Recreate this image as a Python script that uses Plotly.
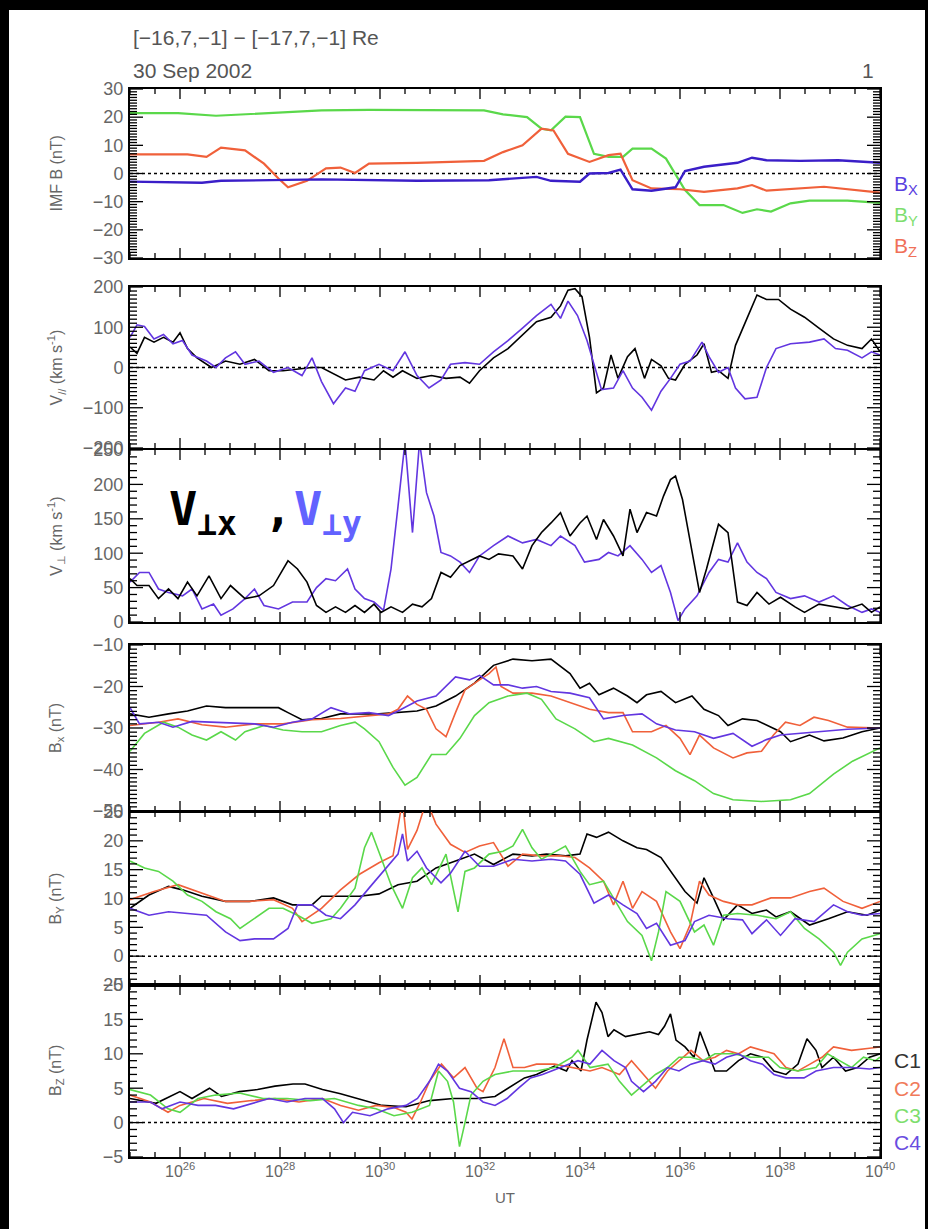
import numpy as np
import plotly.graph_objects as go

# ---------------- data (time in minutes after 10:00 UT) ----------------
# Panel 1: IMF B (nT)
IMF_BX_T = [25.0, 26.44, 26.82, 28.83, 30.74, 32.18, 33.13, 33.42, 34.0, 34.19, 34.57, 34.81, 35.05, 35.43, 35.91, 36.1, 36.48, 37.15, 37.44, 37.73, 38.4, 39.16, 40.0]
IMF_BX = [-2.9, -3.3, -2.6, -2.1, -2.6, -2.4, -1.2, -2.6, -2.9, 0.0, 0.2, 1.4, -5.6, -6.1, -4.9, 0.9, 2.4, 3.8, 5.6, 4.7, 4.5, 4.7, 3.8]
IMF_BY_T = [25.0, 25.96, 26.72, 27.87, 28.83, 29.78, 30.74, 32.08, 32.46, 32.94, 33.23, 33.42, 33.71, 34.0, 34.28, 34.57, 34.86, 35.05, 35.43, 35.72, 36.1, 36.39, 36.87, 37.25, 37.54, 37.82, 38.21, 38.59, 39.35, 40.0]
IMF_BY = [21.4, 21.4, 20.5, 21.4, 22.4, 22.6, 22.6, 22.4, 21.0, 20.0, 15.9, 15.3, 20.2, 20.0, 7.0, 5.9, 5.9, 8.8, 8.8, 5.3, -5.9, -11.2, -11.2, -14.0, -12.7, -13.5, -10.6, -9.6, -9.6, -10.4]
IMF_BZ_T = [25.0, 26.15, 26.53, 26.82, 27.3, 27.68, 27.97, 28.16, 28.54, 28.92, 29.21, 29.5, 29.78, 30.74, 32.08, 32.46, 32.85, 33.23, 33.47, 33.76, 34.19, 34.57, 34.81, 35.05, 35.43, 36.0, 36.48, 37.15, 37.44, 37.73, 38.88, 40.0]
IMF_BZ = [6.8, 6.8, 5.9, 9.2, 8.2, 3.5, -1.8, -4.9, -2.6, 1.8, 2.1, 0.2, 3.5, 3.8, 4.5, 7.6, 10.0, 15.9, 15.3, 7.0, 4.1, 6.5, 7.0, -2.4, -5.3, -5.6, -6.5, -5.3, -4.1, -6.1, -4.7, -6.8]

# Panel 2: V parallel (km/s)
VPAR_X_T = [25.0, 25.14, 25.29, 25.48, 25.67, 25.86, 26.0, 26.15, 26.34, 26.63, 26.91, 27.2, 27.49, 27.78, 28.06, 28.35, 28.64, 28.83, 29.02, 29.31, 29.59, 29.88, 30.07, 30.26, 30.45, 30.74, 31.03, 31.32, 31.6, 31.79, 31.99, 32.27, 32.56, 32.85, 33.13, 33.42, 33.61, 33.76, 33.9, 34.04, 34.19, 34.33, 34.47, 34.62, 34.76, 34.95, 35.1, 35.29, 35.43, 35.62, 35.77, 35.91, 36.1, 36.34, 36.48, 36.63, 36.77, 36.96, 37.11, 37.34, 37.54, 37.73, 37.97, 38.21, 38.49, 38.78, 39.07, 39.35, 39.64, 39.83, 40.0]
VPAR_X = [51, 35, 75, 63, 75, 63, 86, 47, 24, 0, 16, 8, 20, -8, -8, -4, 0, 0, -12, -31, -24, -31, -8, -24, -8, -27, -20, -27, -24, -39, -8, 24, 47, 82, 114, 125, 153, 192, 196, 176, 75, -63, -51, 31, -27, 27, 47, -27, 20, 4, -27, -31, 8, 31, 59, -12, -8, -27, 55, 122, 180, 169, 169, 145, 125, 98, 71, 55, 47, 71, 39]
VPAR_Y_T = [25.0, 25.14, 25.29, 25.48, 25.67, 25.86, 26.05, 26.24, 26.53, 26.72, 26.91, 27.11, 27.3, 27.58, 27.87, 28.16, 28.44, 28.64, 28.83, 29.07, 29.31, 29.5, 29.69, 29.98, 30.26, 30.5, 30.74, 30.98, 31.22, 31.41, 31.7, 31.99, 32.27, 32.56, 32.85, 33.13, 33.42, 33.61, 33.76, 33.95, 34.14, 34.28, 34.43, 34.67, 34.86, 35.05, 35.24, 35.43, 35.62, 35.81, 36.0, 36.2, 36.44, 36.58, 36.77, 36.96, 37.11, 37.3, 37.54, 37.73, 37.92, 38.21, 38.59, 38.88, 39.11, 39.35, 39.64, 39.83, 40.0]
VPAR_Y = [75, 106, 102, 71, 82, 59, 67, 31, 16, 0, 24, 39, 8, 16, -12, 0, -20, 24, -35, -90, -51, -59, -8, 8, -8, 39, -20, -51, -31, 8, 12, 8, 39, 67, 98, 129, 157, 122, 165, 129, 67, 8, -55, -51, -8, -51, -74, -106, -59, -27, 8, 16, 63, 27, -12, 0, -51, -78, -74, 0, 47, 59, 63, 71, 47, 43, 24, 39, 31]

# Panel 3: V perpendicular (km/s)
VPERP_X_T = [25.0, 25.14, 25.38, 25.57, 25.77, 25.96, 26.15, 26.34, 26.58, 26.82, 27.01, 27.3, 27.58, 27.87, 28.16, 28.35, 28.54, 28.73, 28.92, 29.11, 29.31, 29.5, 29.69, 29.88, 30.02, 30.22, 30.45, 30.65, 30.84, 31.03, 31.22, 31.41, 31.6, 31.79, 31.99, 32.18, 32.37, 32.66, 32.85, 33.04, 33.23, 33.42, 33.61, 33.8, 34.0, 34.14, 34.33, 34.47, 34.67, 34.86, 35.0, 35.14, 35.33, 35.53, 35.67, 35.81, 35.91, 36.05, 36.24, 36.39, 36.53, 36.77, 36.96, 37.15, 37.34, 37.54, 37.78, 38.01, 38.3, 38.49, 38.78, 39.07, 39.35, 39.64, 39.83, 40.0]
VPERP_X = [63, 53, 53, 34, 48, 34, 58, 38, 67, 34, 53, 34, 38, 53, 89, 77, 58, 24, 14, 22, 14, 24, 14, 26, 14, 22, 14, 26, 22, 34, 72, 65, 82, 89, 96, 91, 99, 96, 77, 111, 130, 144, 159, 125, 144, 154, 120, 149, 125, 96, 164, 130, 159, 154, 183, 207, 212, 178, 101, 43, 77, 142, 130, 29, 24, 43, 26, 36, 22, 14, 26, 22, 19, 26, 14, 22]
VPERP_Y_T = [25.0, 25.19, 25.38, 25.57, 25.77, 26.05, 26.24, 26.44, 26.67, 26.82, 27.06, 27.3, 27.49, 27.68, 27.97, 28.25, 28.54, 28.73, 28.92, 29.11, 29.35, 29.5, 29.69, 29.88, 30.07, 30.22, 30.36, 30.5, 30.65, 30.79, 30.93, 31.08, 31.22, 31.41, 31.6, 31.79, 31.99, 32.27, 32.56, 32.85, 33.13, 33.42, 33.61, 33.9, 34.09, 34.38, 34.57, 34.76, 35.0, 35.24, 35.43, 35.62, 35.81, 35.96, 36.1, 36.34, 36.58, 36.77, 36.96, 37.15, 37.34, 37.54, 37.73, 37.92, 38.21, 38.49, 38.78, 39.07, 39.35, 39.64, 39.83, 40.0]
VPERP_Y = [58, 72, 72, 48, 43, 38, 48, 19, 26, 10, 19, 34, 48, 24, 19, 29, 29, 50, 63, 60, 77, 48, 34, 29, 17, 77, 168, 262, 130, 262, 188, 154, 101, 96, 87, 72, 96, 111, 125, 115, 120, 111, 125, 111, 87, 91, 101, 96, 111, 91, 72, 82, 43, 2, 19, 38, 72, 91, 87, 115, 87, 72, 63, 43, 34, 38, 29, 38, 24, 14, 19, 14]

# Panel 4: Bx (nT) for C1..C4
BX_T1 = [25.0, 25.38, 25.77, 26.15, 26.53, 26.91, 27.39, 27.97, 28.16, 28.44, 28.83, 29.21, 29.98, 30.36, 30.74, 31.12, 31.51, 31.89, 32.27, 32.66, 33.04, 33.42, 33.8, 34.0, 34.19, 34.38, 34.67, 34.95, 35.14, 35.33, 35.62, 35.91, 36.24, 36.48, 36.77, 36.96, 37.25, 37.54, 37.82, 38.01, 38.21, 38.59, 38.88, 39.26, 39.64, 40.0]
BX_C1 = [-26.6, -27.4, -26.6, -25.9, -24.7, -25.1, -25.1, -25.1, -26.3, -28.0, -27.7, -26.6, -26.6, -26.3, -25.9, -24.7, -22.3, -19.2, -14.9, -13.4, -13.8, -13.4, -16.9, -20.4, -19.2, -22.0, -20.4, -22.3, -23.9, -22.0, -21.2, -23.9, -22.3, -25.5, -27.0, -29.4, -27.8, -28.2, -29.8, -30.9, -33.3, -31.7, -33.1, -32.4, -30.9, -30.0]
BX_T2 = [25.0, 25.57, 25.96, 26.44, 26.91, 27.49, 28.06, 28.64, 29.21, 29.78, 30.17, 30.36, 30.55, 30.74, 30.93, 31.12, 31.32, 31.51, 31.7, 31.99, 32.18, 32.32, 32.42, 32.66, 33.04, 33.42, 33.8, 34.19, 34.57, 34.86, 35.05, 35.43, 35.72, 36.0, 36.2, 36.39, 36.67, 37.06, 37.34, 37.63, 37.87, 38.11, 38.4, 38.68, 38.97, 39.35, 40.0]
BX_C2 = [-29.4, -28.6, -27.8, -29.2, -29.8, -29.0, -29.0, -28.0, -27.7, -27.0, -26.6, -25.5, -22.3, -24.3, -25.5, -30.2, -32.1, -26.3, -20.8, -18.4, -16.9, -15.3, -20.0, -21.6, -21.6, -22.3, -23.9, -25.5, -26.3, -26.3, -30.9, -30.9, -29.4, -32.5, -36.4, -31.7, -34.8, -37.2, -36.0, -35.6, -31.7, -28.6, -29.4, -27.4, -28.2, -29.8, -30.0]
BX_T3 = [25.0, 25.29, 25.67, 25.96, 26.24, 26.53, 26.82, 27.11, 27.3, 27.68, 28.06, 28.44, 28.83, 29.21, 29.5, 29.69, 29.98, 30.26, 30.5, 30.74, 31.03, 31.32, 31.6, 31.89, 32.18, 32.56, 32.94, 33.23, 33.52, 33.9, 34.28, 34.57, 35.05, 35.53, 35.91, 36.29, 36.67, 37.06, 37.63, 38.21, 38.59, 39.07, 39.45, 40.0]
BX_C3 = [-35.6, -31.3, -28.6, -29.8, -31.7, -32.9, -30.9, -32.9, -30.9, -29.4, -30.5, -30.9, -30.9, -29.4, -28.6, -30.2, -33.3, -39.5, -43.8, -41.9, -36.4, -36.4, -32.5, -27.0, -23.9, -22.3, -21.6, -23.1, -27.8, -30.2, -33.3, -32.5, -34.1, -37.2, -40.3, -42.7, -45.8, -47.3, -47.7, -47.3, -45.8, -41.1, -38.0, -34.8]
BX_T4 = [25.0, 25.19, 25.57, 25.86, 26.24, 26.91, 27.49, 27.87, 28.25, 28.64, 29.02, 29.4, 29.78, 30.17, 30.36, 30.74, 31.12, 31.51, 31.79, 31.99, 32.27, 32.56, 32.85, 33.13, 33.42, 33.8, 34.19, 34.47, 34.86, 35.24, 35.53, 35.91, 36.29, 36.67, 37.06, 37.44, 37.73, 38.01, 38.4, 38.78, 39.35, 40.0]
BX_C4 = [-25.1, -29.0, -28.6, -29.8, -28.4, -28.8, -29.0, -29.8, -28.6, -27.8, -25.1, -26.6, -26.3, -27.0, -25.9, -23.5, -22.3, -17.7, -18.4, -17.3, -19.6, -19.6, -20.4, -20.0, -21.2, -21.6, -22.7, -27.8, -27.0, -26.6, -29.0, -30.5, -30.9, -32.5, -31.3, -34.4, -32.8, -31.7, -31.3, -30.9, -30.3, -30.0]

# Panel 5: By (nT) for C1..C4
BY_T1 = [25.0, 25.38, 25.77, 26.05, 26.44, 26.91, 27.39, 27.87, 28.25, 28.64, 28.83, 29.21, 29.59, 29.98, 30.36, 30.74, 31.12, 31.51, 31.89, 32.27, 32.66, 33.04, 33.33, 33.71, 34.0, 34.14, 34.33, 34.57, 34.86, 35.14, 35.33, 35.62, 35.81, 36.1, 36.34, 36.48, 36.67, 36.87, 37.15, 37.44, 37.73, 37.92, 38.21, 38.59, 38.97, 39.35, 39.74, 40.0]
BY_C1 = [8.3, 10.6, 12.1, 11.5, 10.4, 9.5, 9.5, 10.1, 8.9, 8.9, 10.4, 10.4, 10.4, 10.8, 12.4, 13.0, 15.3, 16.5, 17.7, 15.9, 17.7, 17.4, 17.7, 17.4, 17.7, 21.2, 20.6, 21.5, 20.0, 18.8, 18.5, 17.1, 14.7, 11.2, 9.2, 13.6, 10.1, 6.3, 8.9, 7.4, 8.0, 6.8, 7.7, 5.4, 6.5, 7.7, 7.1, 8.0]
BY_T2 = [25.0, 25.48, 25.96, 26.44, 26.91, 27.39, 27.87, 28.25, 28.44, 28.83, 29.21, 29.59, 29.98, 30.26, 30.45, 30.55, 30.74, 30.93, 31.12, 31.41, 31.7, 31.99, 32.27, 32.56, 32.85, 33.23, 33.61, 33.9, 34.19, 34.47, 34.67, 34.86, 35.05, 35.24, 35.53, 35.81, 36.0, 36.2, 36.39, 36.58, 36.87, 37.15, 37.44, 37.82, 38.21, 38.59, 38.88, 39.26, 39.64, 40.0]
BY_C2 = [9.8, 11.2, 12.4, 10.9, 9.5, 9.5, 9.8, 8.3, 6.0, 8.3, 11.5, 14.2, 16.2, 17.4, 27.0, 18.5, 21.8, 27.0, 22.9, 19.4, 18.0, 19.1, 19.7, 15.6, 17.7, 17.4, 17.4, 17.1, 15.3, 13.0, 8.9, 13.0, 8.3, 11.2, 9.5, 4.2, 1.3, 5.4, 13.0, 10.6, 9.5, 8.9, 8.9, 10.1, 10.1, 11.2, 11.8, 9.5, 8.3, 9.5]
BY_T3 = [25.0, 25.29, 25.57, 25.86, 26.15, 26.44, 26.72, 27.01, 27.2, 27.49, 27.78, 28.06, 28.35, 28.64, 29.02, 29.21, 29.5, 29.69, 29.83, 30.02, 30.22, 30.45, 30.65, 30.84, 31.03, 31.32, 31.56, 31.7, 31.89, 32.18, 32.46, 32.66, 32.85, 33.04, 33.23, 33.42, 33.71, 34.0, 34.19, 34.47, 34.67, 34.95, 35.24, 35.43, 35.57, 35.72, 36.0, 36.29, 36.48, 36.67, 36.87, 37.15, 37.54, 37.92, 38.21, 38.49, 38.78, 39.07, 39.21, 39.35, 39.64, 40.0]
BY_C3 = [16.5, 15.3, 14.7, 13.0, 10.6, 9.5, 7.7, 6.5, 4.8, 6.5, 8.3, 8.3, 7.1, 5.7, 6.5, 8.3, 11.8, 18.8, 21.5, 17.1, 12.4, 8.3, 13.6, 15.3, 12.4, 17.7, 7.7, 14.7, 15.3, 17.7, 18.2, 19.1, 22.0, 18.8, 16.8, 17.7, 19.1, 14.7, 12.4, 13.0, 10.1, 6.0, 3.6, -0.8, 4.2, 11.2, 9.5, 4.2, 5.4, 1.9, 7.1, 7.4, 7.1, 6.5, 7.7, 4.8, 3.0, 0.7, -1.6, 0.7, 3.0, 3.9]
BY_T4 = [25.0, 25.38, 25.77, 26.15, 26.53, 26.91, 27.2, 27.49, 27.87, 28.16, 28.35, 28.64, 28.92, 29.21, 29.5, 29.78, 30.07, 30.36, 30.45, 30.55, 30.74, 30.93, 31.22, 31.41, 31.7, 31.99, 32.27, 32.66, 33.04, 33.42, 33.71, 34.0, 34.28, 34.57, 34.86, 35.14, 35.33, 35.53, 35.81, 36.1, 36.29, 36.58, 36.96, 37.25, 37.44, 37.73, 38.01, 38.3, 38.68, 39.07, 39.35, 39.64, 40.0]
BY_C4 = [8.3, 7.1, 7.7, 7.4, 7.1, 4.2, 2.7, 3.0, 3.0, 4.8, 8.9, 8.9, 7.1, 6.5, 8.9, 11.8, 14.7, 17.7, 21.2, 16.5, 18.2, 15.3, 12.7, 14.4, 18.2, 15.6, 15.6, 16.8, 16.5, 16.8, 16.5, 14.2, 9.2, 10.6, 8.9, 7.4, 4.8, 5.7, 1.9, 2.7, 6.0, 7.1, 6.5, 6.3, 3.9, 6.3, 3.6, 6.5, 6.0, 8.9, 7.7, 7.1, 7.4]

# Panel 6: Bz (nT) for C1..C4
BZ_T1 = [25.0, 25.29, 25.52, 26.0, 26.24, 26.59, 26.83, 27.19, 27.55, 27.9, 28.26, 28.5, 28.85, 29.21, 29.57, 30.04, 30.52, 30.99, 31.47, 31.94, 32.3, 32.66, 32.89, 33.13, 33.49, 33.73, 33.84, 34.02, 34.14, 34.32, 34.44, 34.56, 34.68, 34.91, 35.15, 35.39, 35.57, 35.69, 35.81, 35.92, 36.1, 36.28, 36.4, 36.52, 36.7, 36.93, 37.17, 37.41, 37.65, 37.88, 38.12, 38.36, 38.54, 38.72, 38.84, 39.07, 39.31, 39.55, 39.79, 40.0]
BZ_C1 = [3.5, 3.1, 2.8, 4.5, 3.5, 5.0, 3.8, 4.5, 4.8, 5.3, 5.6, 5.6, 4.8, 4.2, 3.5, 2.5, 2.3, 3.2, 3.5, 3.5, 3.8, 5.5, 6.5, 7.0, 8.2, 7.5, 9.0, 7.5, 12.0, 17.5, 16.0, 12.5, 13.5, 12.5, 12.8, 13.2, 12.8, 14.0, 15.8, 12.0, 11.0, 9.5, 13.2, 11.0, 7.5, 7.5, 9.0, 10.0, 9.5, 7.5, 7.0, 8.5, 12.2, 10.5, 8.0, 9.5, 7.5, 8.0, 9.5, 10.0]
BZ_T2 = [25.0, 25.41, 25.76, 26.0, 26.48, 26.95, 27.43, 27.9, 28.38, 28.85, 29.21, 29.57, 29.92, 30.28, 30.52, 30.64, 30.81, 30.99, 31.23, 31.47, 31.7, 31.94, 32.06, 32.3, 32.48, 32.66, 32.89, 33.13, 33.49, 33.84, 34.2, 34.44, 34.79, 35.03, 35.27, 35.51, 35.75, 35.98, 36.22, 36.46, 36.7, 36.93, 37.17, 37.41, 37.65, 37.88, 38.12, 38.36, 38.6, 38.84, 39.07, 39.43, 39.79, 40.0]
BZ_C2 = [4.0, 3.0, 1.5, 2.5, 3.5, 2.8, 3.2, 3.5, 3.0, 3.5, 2.5, 1.8, 2.5, 2.2, 1.5, 0.5, 3.0, 6.0, 8.5, 6.5, 8.0, 5.0, 4.5, 8.0, 12.2, 8.0, 8.0, 8.5, 8.5, 8.0, 7.5, 8.0, 7.0, 9.0, 7.0, 5.0, 7.5, 9.0, 10.5, 9.0, 9.5, 10.5, 10.0, 11.0, 10.5, 10.0, 8.0, 7.5, 8.5, 9.5, 11.0, 10.5, 10.8, 11.0]
BZ_T3 = [25.0, 25.41, 25.76, 26.0, 26.36, 26.71, 27.19, 27.66, 28.14, 28.61, 29.09, 29.57, 29.92, 30.28, 30.64, 30.99, 31.17, 31.35, 31.47, 31.59, 31.7, 31.82, 32.06, 32.3, 32.66, 33.13, 33.49, 33.84, 33.96, 34.2, 34.56, 34.79, 35.03, 35.27, 35.51, 35.75, 35.98, 36.22, 36.46, 36.7, 37.05, 37.41, 37.77, 38.0, 38.36, 38.72, 38.95, 39.19, 39.43, 39.67, 39.91, 40.0]
BZ_C3 = [4.8, 4.0, 2.0, 1.5, 3.5, 4.0, 4.3, 3.5, 3.5, 3.2, 3.5, 2.5, 2.0, 1.0, 1.5, 2.5, 7.5, 6.0, 3.0, -3.5, 0.0, 4.0, 6.0, 7.0, 7.5, 7.5, 8.0, 9.5, 10.5, 8.0, 8.5, 6.0, 4.0, 5.5, 7.0, 8.0, 9.5, 9.5, 9.0, 10.0, 10.0, 9.5, 9.5, 8.0, 7.5, 8.0, 10.0, 9.0, 8.0, 9.5, 9.0, 9.5]
BZ_T4 = [25.0, 25.41, 25.64, 26.0, 26.36, 26.71, 27.07, 27.43, 27.78, 28.14, 28.5, 28.85, 29.09, 29.27, 29.45, 29.8, 30.16, 30.52, 30.75, 30.99, 31.17, 31.35, 31.59, 31.82, 32.06, 32.3, 32.54, 32.77, 33.01, 33.25, 33.61, 33.96, 34.2, 34.44, 34.68, 34.91, 35.03, 35.27, 35.51, 35.75, 35.98, 36.22, 36.46, 36.7, 36.93, 37.17, 37.41, 37.65, 37.88, 38.12, 38.48, 38.72, 39.07, 39.43, 39.79, 40.0]
BZ_C4 = [3.0, 3.0, 2.0, 3.0, 2.5, 2.5, 2.0, 2.8, 3.5, 3.0, 3.5, 3.5, 2.0, 0.0, 1.5, 1.0, 2.0, 2.5, 3.5, 6.0, 8.5, 7.5, 5.0, 4.5, 3.0, 2.5, 3.5, 5.0, 6.5, 7.0, 8.0, 9.0, 8.5, 10.5, 9.0, 8.0, 6.0, 4.5, 6.0, 8.0, 7.5, 8.5, 9.0, 8.5, 9.5, 10.0, 9.0, 8.5, 7.0, 6.5, 6.5, 7.5, 8.0, 8.0, 7.8, 8.0]

# Axis / tick labels
X_TICKS = [26, 28, 30, 32, 34, 36, 38, 40]
X_TICK_TEXT = ["10<sup>26</sup>", "10<sup>28</sup>", "10<sup>30</sup>", "10<sup>32</sup>",
               "10<sup>34</sup>", "10<sup>36</sup>", "10<sup>38</sup>", "10<sup>40</sup>"]
Y_TITLES = ["IMF B (nT)", "V<sub>//</sub> (km s<sup>-1</sup>)", "V<sub>\u22a5</sub> (km s<sup>-1</sup>)",
            "B<sub>x</sub> (nT)", "B<sub>Y</sub> (nT)", "B<sub>Z</sub> (nT)"]
Y_RANGES = [(-30, 30), (-200, 200), (0, 250), (-50, -10), (-5, 25), (-5, 20)]
Y_DTICK = [10, 100, 50, 10, 5, 5]
Y_MINOR = [1, 10, 10, 1, 1, 1]
IMF_LABELS = ["B<sub>X</sub>", "B<sub>Y</sub>", "B<sub>Z</sub>"]
SC_LABELS = ["C1", "C2", "C3", "C4"]

# ---------------- styling / layout ----------------
W, H = 928, 1229
XL, XR = 130, 880
PANELS = [(89, 258), (287, 448), (450, 622), (645, 811), (812, 985), (985, 1157)]
X_RANGE = (25, 40)
X_MINOR, X_MAJOR = 0.5, 2

BLK = "#000000"
RED = "#f0603a"
GRN = "#5ad84a"
PUR = "#6236e0"
IMFB = "#3a1ec8"
GRAY = "#666666"
TICKFONT = dict(family="Liberation Sans", size=18, color=GRAY)

fig = go.Figure()


def ax(i, kind):
    return kind if i == 1 else f"{kind}{i}"


def add_line(panel, t, v, color, width):
    fig.add_trace(go.Scatter(x=t, y=v, mode="lines", line=dict(color=color, width=width),
                             xaxis=ax(panel, "x"), yaxis=ax(panel, "y"),
                             showlegend=False, hoverinfo="skip"))


add_line(1, IMF_BY_T, IMF_BY, GRN, 2.2)
add_line(1, IMF_BZ_T, IMF_BZ, RED, 2.2)
add_line(1, IMF_BX_T, IMF_BX, IMFB, 2.4)
add_line(2, VPAR_X_T, VPAR_X, BLK, 1.6)
add_line(2, VPAR_Y_T, VPAR_Y, PUR, 1.6)
add_line(3, VPERP_Y_T, VPERP_Y, PUR, 1.6)
add_line(3, VPERP_X_T, VPERP_X, BLK, 1.6)
for p, sets in [(4, [(BX_T1, BX_C1), (BX_T2, BX_C2), (BX_T3, BX_C3), (BX_T4, BX_C4)]),
                (5, [(BY_T1, BY_C1), (BY_T2, BY_C2), (BY_T3, BY_C3), (BY_T4, BY_C4)]),
                (6, [(BZ_T1, BZ_C1), (BZ_T2, BZ_C2), (BZ_T3, BZ_C3), (BZ_T4, BZ_C4)])]:
    for (t, v), c in zip(sets, [BLK, RED, GRN, PUR]):
        add_line(p, t, v, c, 1.6)


def add_ruler_ticks(panel, top, bot):
    """Dense inward ticks on all four frame sides (IDL style), in axis units."""
    y0, y1 = Y_RANGES[panel - 1]
    ux = (X_RANGE[1] - X_RANGE[0]) / (XR - XL)   # axis units per pixel (x)
    uy = (y1 - y0) / (bot - top)                  # axis units per pixel (y)
    xs, ys = [], []
    nmin = int(round((y1 - y0) / Y_MINOR[panel - 1]))
    for k in range(nmin + 1):
        v = y0 + k * Y_MINOR[panel - 1]
        major = abs((v / Y_DTICK[panel - 1]) - round(v / Y_DTICK[panel - 1])) < 1e-6
        ln = (13 if major else 7) * ux
        xs += [X_RANGE[0], X_RANGE[0] + ln, None, X_RANGE[1] - ln, X_RANGE[1], None]
        ys += [v, v, None, v, v, None]
    nx = int(round((X_RANGE[1] - X_RANGE[0]) / X_MINOR))
    for k in range(nx + 1):
        t = X_RANGE[0] + k * X_MINOR
        major = abs(t / X_MAJOR - round(t / X_MAJOR)) < 1e-6
        ln = (10 if major else 5) * uy
        xs += [t, t, None, t, t, None]
        ys += [y0, y0 + ln, None, y1 - ln, y1, None]
    fig.add_trace(go.Scatter(x=xs, y=ys, mode="lines", line=dict(color=BLK, width=1.3),
                             xaxis=ax(panel, "x"), yaxis=ax(panel, "y"),
                             showlegend=False, hoverinfo="skip", connectgaps=False))


layout = dict(width=W, height=H, margin=dict(l=0, r=0, t=0, b=0),
              paper_bgcolor="white", plot_bgcolor="white", showlegend=False)
shapes = []
annotations = []
for i, (top, bot) in enumerate(PANELS, start=1):
    add_ruler_ticks(i, top, bot)
    common = dict(showgrid=False, zeroline=False, automargin=False, fixedrange=True,
                  showline=True, linecolor=BLK, linewidth=2, mirror=True, ticks="")
    layout[f"xaxis{'' if i == 1 else i}"] = dict(
        domain=[XL / W, XR / W], range=list(X_RANGE), anchor=ax(i, "y"),
        showticklabels=False, **common)
    layout[f"yaxis{'' if i == 1 else i}"] = dict(
        domain=[1 - bot / H, 1 - top / H], range=list(Y_RANGES[i - 1]), anchor=ax(i, "x"),
        tickmode="linear", tick0=0, dtick=Y_DTICK[i - 1], tickfont=TICKFONT, ticklabelstandoff=1,
        **common)
    if i in (1, 2, 5, 6):
        shapes.append(dict(type="line", xref=ax(i, "x"), yref=ax(i, "y"), x0=25, x1=40, y0=0, y1=0,
                           line=dict(color=BLK, width=1.5, dash="dot"), layer="below"))
    annotations.append(dict(text=Y_TITLES[i - 1], textangle=-90, xref="paper", yref="paper",
                            x=56 / W, y=1 - (top + bot) / 2 / H, showarrow=False,
                            font=dict(family="Liberation Sans", size=16, color=GRAY),
                            xanchor="center", yanchor="middle"))

# x tick labels under the bottom panel
for tv, tt in zip(X_TICKS, X_TICK_TEXT):
    annotations.append(dict(text=tt, xref="x6", yref="paper", x=tv, y=1 - 1170 / H,
                            xanchor="center", yanchor="middle", showarrow=False,
                            font=dict(family="Liberation Sans", size=16, color=GRAY)))

# header texts
annotations += [
    dict(text="[\u221216,7,\u22121] \u2212 [\u221217,7,\u22121] Re", xref="paper", yref="paper",
         x=131 / W, y=1 - 38 / H, xanchor="left", yanchor="middle", showarrow=False,
         font=dict(family="Liberation Sans", size=21, color="#555555")),
    dict(text="30 Sep 2002", xref="paper", yref="paper", x=131 / W, y=1 - 70 / H,
         xanchor="left", yanchor="middle", showarrow=False,
         font=dict(family="Liberation Sans", size=21, color="#555555")),
    dict(text="1", xref="paper", yref="paper", x=876 / W, y=1 - 70 / H,
         xanchor="right", yanchor="middle", showarrow=False,
         font=dict(family="Liberation Sans", size=21, color="#555555")),
    dict(text="UT", xref="paper", yref="paper", x=505 / W, y=1 - 1197 / H,
         xanchor="center", yanchor="middle", showarrow=False,
         font=dict(family="Liberation Sans", size=15, color=GRAY)),
    # in-panel label: V_perp,x (black) , V_perp,y (blue)
    dict(text="<b>V<sub>\u22a5x</sub></b>", xref="paper", yref="paper", x=167 / W, y=1 - 512 / H,
         xanchor="left", yanchor="middle", showarrow=False,
         font=dict(family="DejaVu Sans Mono", size=47, color=BLK)),
    dict(text="<b>,</b>", xref="paper", yref="paper", x=262 / W, y=1 - 510 / H,
         xanchor="left", yanchor="middle", showarrow=False,
         font=dict(family="DejaVu Sans Mono", size=47, color=BLK)),
    dict(text="<b>V<sub>\u22a5y</sub></b>", xref="paper", yref="paper", x=292 / W, y=1 - 512 / H,
         xanchor="left", yanchor="middle", showarrow=False,
         font=dict(family="DejaVu Sans Mono", size=47, color="#6262ff")),
]
for lab, c, y in zip(IMF_LABELS, ["#5a40e0", "#7ede6e", "#f07058"], [185, 216, 247]):
    annotations.append(dict(text=lab, xref="paper", yref="paper", x=892 / W, y=1 - y / H,
                            xanchor="left", yanchor="middle", showarrow=False,
                            font=dict(family="Liberation Sans", size=21, color=c)))
for lab, c, y in zip(SC_LABELS, ["#333333", "#f07a5a", "#7ede6e", "#6a4ce0"], [1060, 1088, 1115, 1142]):
    annotations.append(dict(text=lab, xref="paper", yref="paper", x=892 / W, y=1 - y / H,
                            xanchor="left", yanchor="middle", showarrow=False,
                            font=dict(family="Liberation Sans", size=21, color=c)))

# black image border (left, top, right)
for x0, x1, y0, y1 in [(0, 9, 0, H), (0, W, 0, 10), (925, W, 0, H)]:
    shapes.append(dict(type="rect", xref="paper", yref="paper", x0=x0 / W, x1=x1 / W,
                       y0=1 - y1 / H, y1=1 - y0 / H, fillcolor=BLK, line=dict(width=0), layer="above"))

layout["shapes"] = shapes
layout["annotations"] = annotations
fig.update_layout(**layout)
fig.write_html("out.html")
